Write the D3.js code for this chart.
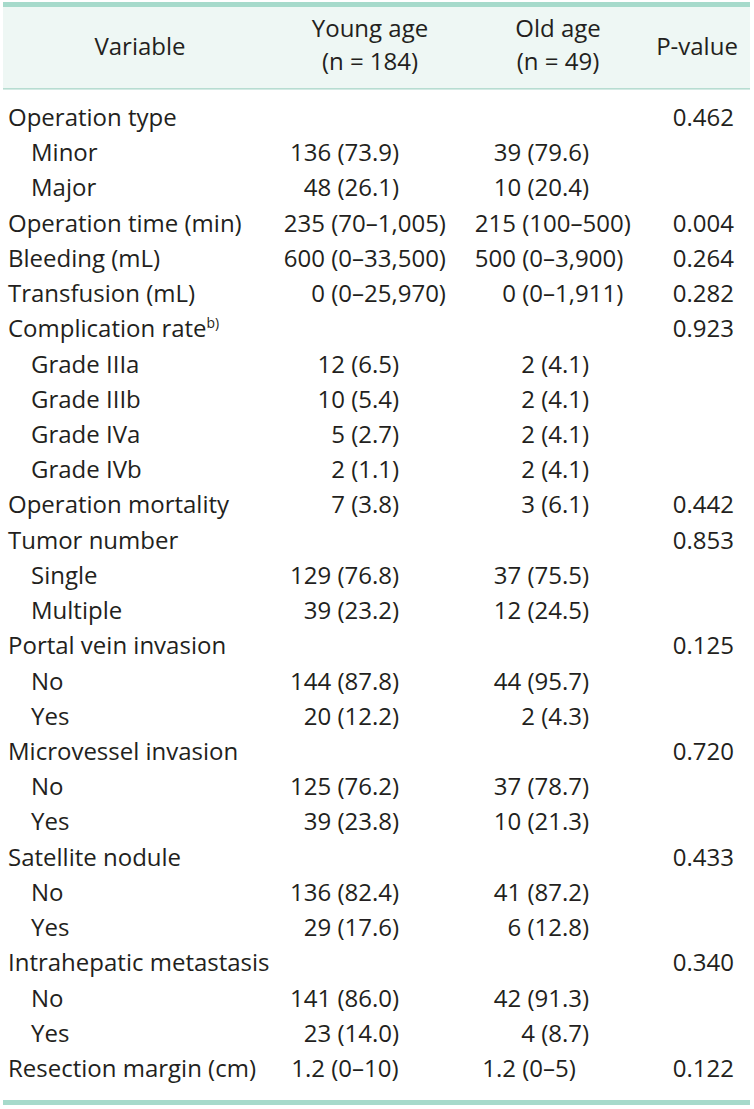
<!DOCTYPE html>
<html><head><meta charset="utf-8">
<script src="https://cdn.jsdelivr.net/npm/d3@7"></script>
<style>
html,body{margin:0;padding:0;background:#fff;}
svg text{font-family:"Open Sans","Noto Sans",sans-serif;fill:#231f20;}
</style></head>
<body>
<svg id="chart" width="754" height="1109"></svg>
<script>
// ---- data ----
const variables = ["Operation type","Minor","Major","Operation time (min)","Bleeding (mL)","Transfusion (mL)",
  "Complication rate","Grade IIIa","Grade IIIb","Grade IVa","Grade IVb","Operation mortality","Tumor number",
  "Single","Multiple","Portal vein invasion","No","Yes","Microvessel invasion","No","Yes","Satellite nodule",
  "No","Yes","Intrahepatic metastasis","No","Yes","Resection margin (cm)"];
const indented = [0,1,1,0,0,0,0,1,1,1,1,0,0,1,1,0,1,1,0,1,1,0,1,1,0,1,1,0];
const superscripts = ["","","","","","","b)","","","","","","","","","","","","","","","","","","","","",""];
const youngAge = ["","136 (73.9)","48 (26.1)","235 (70–1,005)","600 (0–33,500)","0 (0–25,970)","",
  "12 (6.5)","10 (5.4)","5 (2.7)","2 (1.1)","7 (3.8)","","129 (76.8)","39 (23.2)","","144 (87.8)","20 (12.2)",
  "","125 (76.2)","39 (23.8)","","136 (82.4)","29 (17.6)","","141 (86.0)","23 (14.0)","1.2 (0–10)"];
const oldAge = ["","39 (79.6)","10 (20.4)","215 (100–500)","500 (0–3,900)","0 (0–1,911)","",
  "2 (4.1)","2 (4.1)","2 (4.1)","2 (4.1)","3 (6.1)","","37 (75.5)","12 (24.5)","","44 (95.7)","2 (4.3)",
  "","37 (78.7)","10 (21.3)","","41 (87.2)","6 (12.8)","","42 (91.3)","4 (8.7)","1.2 (0–5)"];
const pValues = ["0.462","","","0.004","0.264","0.282","0.923","","","","","0.442","0.853","","","0.125","","",
  "0.720","","","0.433","","","0.340","","","0.122"];
const headers = [["Variable"],["Young age","(n = 184)"],["Old age","(n = 49)"],["P-value"]];

// ---- layout ----
const FS = 24;
const svg = d3.select("#chart");
const teal = "#a6dacb", headBg = "#eef7f4", headLine = "#b7ddd1";

const y = d3.scalePoint().domain(d3.range(variables.length)).range([126, 1077]);
const headerCenters = [140, 370, 558, 697];
// alignment anchors: decimal point (percent cells) / opening paren (range cells)
const anchors = {young:{dec:372, paren:325}, old:{dec:562, paren:516}};

svg.append("rect").attr("x",3).attr("y",7).attr("width",747).attr("height",81).attr("fill",headBg);
svg.append("rect").attr("x",3).attr("y",2).attr("width",747).attr("height",5).attr("fill",teal);
svg.append("rect").attr("x",3).attr("y",88).attr("width",747).attr("height",1.6).attr("fill",headLine);
svg.append("rect").attr("x",3).attr("y",1100).attr("width",747).attr("height",5).attr("fill",teal);

// headers
headers.forEach((lines,i)=>{
  if(lines.length===1){
    svg.append("text").attr("text-anchor","middle").attr("font-size",FS)
      .attr("x",headerCenters[i]).attr("y",55).text(lines[0]);
  } else {
    svg.append("text").attr("text-anchor","middle").attr("font-size",FS)
      .attr("x",headerCenters[i]).attr("y",37).text(lines[0]);
    svg.append("text").attr("text-anchor","middle").attr("font-size",FS)
      .attr("x",headerCenters[i]).attr("y",70).text(lines[1]);
  }
});

// variable labels
const lab = svg.selectAll("text.var").data(variables).join("text")
  .attr("class","var").attr("font-size",FS)
  .attr("x",(d,i)=>indented[i]?31:8).attr("y",(d,i)=>y(i));
lab.append("tspan").text(d=>d);
lab.each(function(d,i){
  if(superscripts[i]) d3.select(this).append("tspan")
    .attr("font-size",FS*0.58).attr("dy",-9).text(superscripts[i]);
});

// measurer
const meas = svg.append("text").attr("font-size",FS).attr("visibility","hidden");
function width(s){ meas.text(s); return meas.node().getComputedTextLength(); }

function placeCells(values, a, cls){
  svg.selectAll("text."+cls).data(values).join("text")
    .attr("class",cls).attr("font-size",FS).attr("y",(d,i)=>y(i))
    .text(d=>d)
    .attr("x",d=>{
      if(!d) return 0;
      const inner = d.slice(d.indexOf("(")+1);
      if(/^[\d.]+\)$/.test(inner)){ // percentage -> decimal align
        const k = d.lastIndexOf(".");
        return a.dec - width(d.slice(0,k));
      }
      return a.paren - width(d.slice(0,d.indexOf("(")));
    });
}
placeCells(youngAge, anchors.young, "young");
placeCells(oldAge, anchors.old, "old");

svg.selectAll("text.pv").data(pValues).join("text")
  .attr("class","pv").attr("font-size",FS).attr("text-anchor","end")
  .attr("x",734).attr("y",(d,i)=>y(i)).text(d=>d);
meas.remove();
</script>
</body></html>
